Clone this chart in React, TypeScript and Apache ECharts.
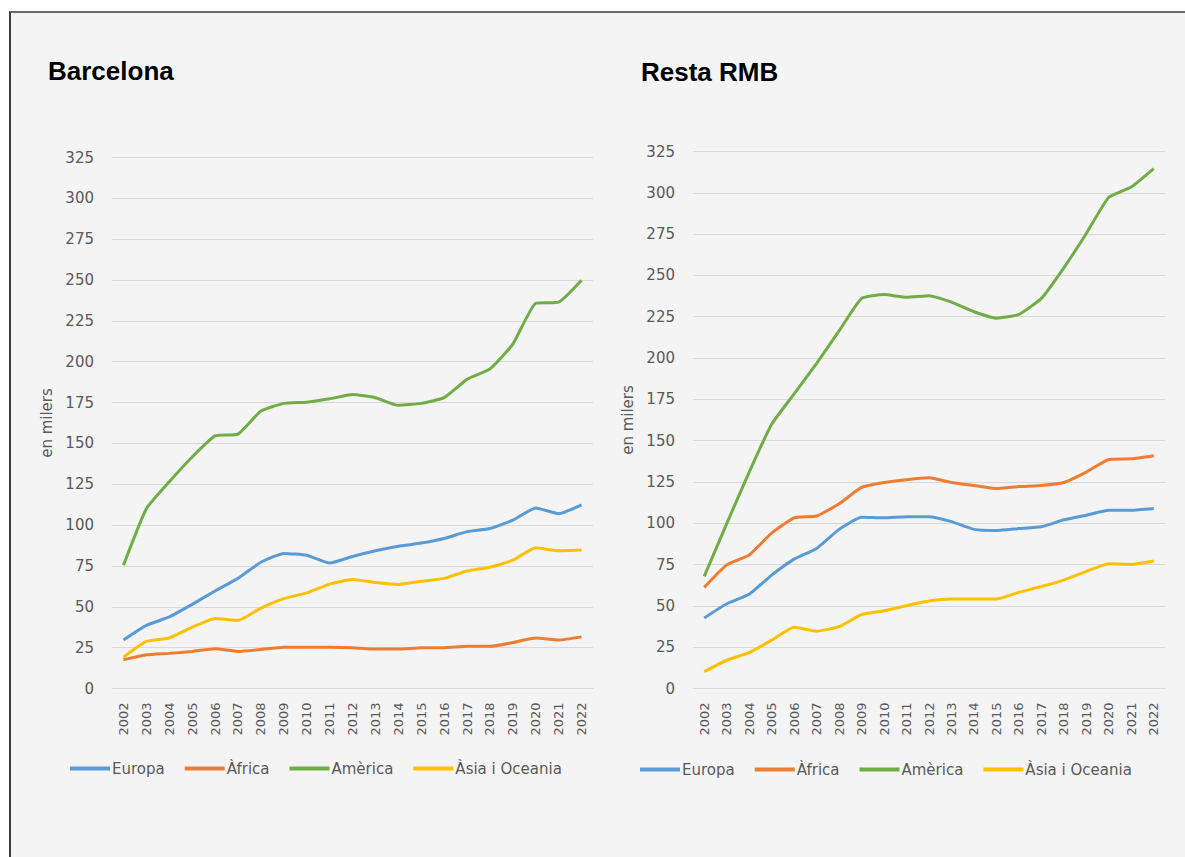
import React, { useEffect, useRef } from "react";
import * as echarts from "echarts";

const years = ["2002","2003","2004","2005","2006","2007","2008","2009","2010","2011","2012","2013","2014","2015","2016","2017","2018","2019","2020","2021","2022"];
const seriesNames = ["Europa", "Àfrica", "Amèrica", "Àsia i Oceania"];
const seriesColors = ["#5b9bd5", "#ed7d31", "#70ad47", "#ffc000"];
const yTicks = { min: 0, max: 325, interval: 25 };

// Barcelona (en milers)
const bcnEuropa = [29.7, 38.6, 43.8, 51.5, 59.7, 67.4, 77.3, 82.7, 81.5, 76.8, 80.8, 84.3, 87.1, 89, 91.8, 96, 97.9, 103, 110.5, 107, 112.4];
const bcnAfrica = [17.6, 20.6, 21.5, 22.7, 24.4, 22.7, 23.9, 25.3, 25.3, 25.3, 25, 24.1, 24.1, 25, 25, 25.8, 25.8, 28.1, 30.9, 29.7, 31.6];
const bcnAmerica = [75.4, 110, 126.5, 141.7, 154.6, 155.7, 169.8, 174.5, 175.2, 177.3, 179.9, 178, 173.3, 174.5, 178, 189.2, 195.6, 210.8, 235.8, 236.5, 249.9];
const bcnAsia = [19.2, 28.8, 30.9, 37.5, 42.9, 41.7, 49.2, 55, 58.5, 63.9, 66.7, 64.9, 63.7, 65.6, 67.4, 71.9, 74.2, 78.5, 86.2, 84.3, 84.8];

// Resta RMB (en milers)
const rmbEuropa = [42.7, 51.3, 57, 68.6, 78.3, 84.8, 96.3, 103.7, 103.3, 104, 104, 101, 96.3, 95.6, 96.8, 97.9, 102.1, 104.9, 107.9, 107.9, 109];
const rmbAfrica = [61.2, 74.8, 80.8, 94, 103.3, 104.4, 111.8, 121.7, 124.7, 126.4, 127.5, 124.7, 122.9, 121, 122.2, 122.9, 124.7, 131, 138.6, 139, 140.9];
const rmbAmerica = [67.9, 99.8, 131, 159.9, 178.3, 196.8, 216.4, 236.1, 238.4, 236.8, 237.7, 233.8, 228, 224.1, 226.4, 236.1, 254.6, 275.4, 297.3, 303.5, 314.6];
const rmbAsia = [10.2, 17.1, 21.7, 29.3, 37, 34.7, 37.4, 44.8, 47.1, 50.1, 52.9, 54.1, 54.1, 54.1, 58.2, 61.7, 65.6, 70.9, 75.5, 75.1, 77.2];

const bcnData = [bcnEuropa, bcnAfrica, bcnAmerica, bcnAsia];
const rmbData = [rmbEuropa, rmbAfrica, rmbAmerica, rmbAsia];

const labelColor = "#595959";
const gridColor = "#d9d9d9";

function makeXAxis(gridIndex: number) {
  return {
    type: "category",
    gridIndex,
    data: years,
    boundaryGap: true,
    axisLine: { show: true, lineStyle: { color: gridColor, width: 1 } },
    axisTick: { show: false },
    axisLabel: {
      rotate: 90,
      interval: 0,
      margin: 14,
      color: labelColor,
      fontFamily: "DejaVu Sans",
      fontSize: 13,
    },
  };
}

function makeYAxis(gridIndex: number) {
  return {
    type: "value",
    gridIndex,
    min: yTicks.min,
    max: yTicks.max,
    interval: yTicks.interval,
    name: "en milers",
    nameLocation: "middle",
    nameGap: 58,
    nameTextStyle: { color: labelColor, fontFamily: "DejaVu Sans", fontSize: 15 },
    axisLine: { show: false },
    axisTick: { show: false },
    splitLine: { lineStyle: { color: gridColor, width: 1 } },
    axisLabel: { color: labelColor, fontFamily: "DejaVu Sans", fontSize: 15, margin: 18 },
  };
}

export default function App() {
  const ref = useRef<HTMLDivElement>(null);
  useEffect(() => {
    if (!ref.current) return;
    const chart = echarts.init(ref.current, null, { renderer: "svg" });
    const series: any[] = [];
    [bcnData, rmbData].forEach((group, gi) => {
      group.forEach((vals, si) => {
        series.push({
          type: "line",
          name: seriesNames[si],
          xAxisIndex: gi,
          yAxisIndex: gi,
          data: vals,
          smooth: 0.15,
          showSymbol: false,
          symbol: "none",
          lineStyle: { width: 3, color: seriesColors[si] },
          itemStyle: { color: seriesColors[si] },
        });
      });
    });
    const legendBase = {
      data: seriesNames,
      icon: "rect",
      itemWidth: 40,
      itemHeight: 4,
      itemGap: 20,
      padding: 0,
      selectedMode: false,
      textStyle: { color: labelColor, fontFamily: "DejaVu Sans", fontSize: 15, padding: [0, 0, 0, -3] },
    };
    chart.setOption({
      animation: false,
      backgroundColor: "transparent",
      textStyle: { fontFamily: "DejaVu Sans" },
      grid: [
        { left: 112, top: 157.5, width: 481, height: 531, containLabel: false },
        { left: 693, top: 151.5, width: 472, height: 537, containLabel: false },
      ],
      xAxis: [makeXAxis(0), makeXAxis(1)],
      yAxis: [makeYAxis(0), makeYAxis(1)],
      legend: [
        { ...legendBase, left: 70, top: 761 },
        { ...legendBase, left: 640, top: 762 },
      ],
      graphic: [
        {
          type: "text",
          x: 48,
          y: 71,
          style: { text: "Barcelona", fill: "#000", font: "bold 26px 'Liberation Sans', Arial, sans-serif", verticalAlign: "middle" },
        },
        {
          type: "text",
          x: 641,
          y: 72,
          style: { text: "Resta RMB", fill: "#000", font: "bold 26px 'Liberation Sans', Arial, sans-serif", verticalAlign: "middle" },
        },
      ],
      series,
    });
    return () => chart.dispose();
  }, []);

  return (
    <div style={{ position: "fixed", left: 0, top: 0, width: 1185, height: 857, background: "#ffffff", overflow: "hidden" }}>
      <div
        style={{
          position: "absolute",
          left: 9,
          top: 11,
          width: 1176,
          height: 846,
          boxSizing: "border-box",
          borderLeft: "2px solid #3a3a3a",
          borderTop: "2px solid #6a6a6a",
          background: "#f4f4f4",
        }}
      />
      <div ref={ref} style={{ position: "absolute", left: 0, top: 0, width: 1185, height: 857 }} />
    </div>
  );
}
